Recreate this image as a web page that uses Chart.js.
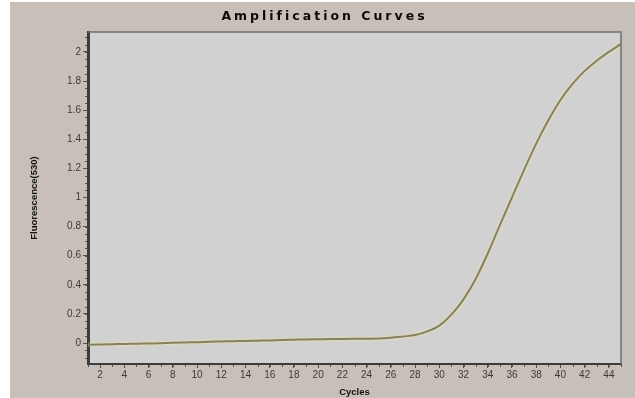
<!DOCTYPE html>
<html>
<head>
<meta charset="utf-8">
<title>Amplification Curves</title>
<script src="https://cdn.jsdelivr.net/npm/chart.js@4/dist/chart.umd.min.js"></script>
<style>
  html, body { margin: 0; padding: 0; background: #fff; }
  #wrap { position: absolute; left: 10px; top: 2px; width: 625px; height: 396px; background: #c8c0b8; }
</style>
</head>
<body>
<div id="wrap"><canvas id="ampChart" width="625" height="396"></canvas></div>
<script>
'use strict';

const cycles = [1, 2, 3, 4, 5, 6, 7, 8, 9, 10, 11, 12, 13, 14, 15, 16, 17, 18, 19, 20, 21, 22, 23,
  24, 25, 26, 27, 28, 29, 30, 31, 32, 33, 34, 35, 36, 37, 38, 39, 40, 41, 42, 43, 44, 45];
const fluorescence = [-0.012, -0.010, -0.008, -0.006, -0.005, -0.003, -0.001, 0.002, 0.004, 0.006,
  0.009, 0.011, 0.013, 0.014, 0.016, 0.018, 0.021, 0.023, 0.025, 0.026, 0.027, 0.028, 0.029, 0.030,
  0.031, 0.036, 0.045, 0.055, 0.080, 0.120, 0.195, 0.300, 0.440, 0.615, 0.810, 1.000, 1.190, 1.370,
  1.530, 1.670, 1.780, 1.870, 1.940, 2.000, 2.055];
const xTicks = [2, 4, 6, 8, 10, 12, 14, 16, 18, 20, 22, 24, 26, 28, 30, 32, 34, 36, 38, 40, 42, 44];
const yTicks = [0, 0.2, 0.4, 0.6, 0.8, 1, 1.2, 1.4, 1.6, 1.8, 2];

const titleText = 'Amplification Curves';

// grey plot background, frame, minor ticks and the bold spaced title
const framePlugin = {
  id: 'frame',
  beforeDraw(chart) {
    const { ctx, chartArea: a } = chart;
    ctx.save();
    ctx.fillStyle = '#d1d1d1';
    ctx.fillRect(a.left, a.top, a.right - a.left, a.bottom - a.top);
    ctx.restore();
  },
  afterDraw(chart) {
    const { ctx, chartArea: a, scales } = chart;
    ctx.save();
    ctx.strokeStyle = '#6e6e6e';
    ctx.lineWidth = 1.5;
    ctx.beginPath();
    ctx.moveTo(a.left, a.top);
    ctx.lineTo(a.right, a.top);
    ctx.lineTo(a.right, a.bottom);
    ctx.stroke();

    // minor ticks
    ctx.strokeStyle = '#555';
    ctx.lineWidth = 1;
    ctx.beginPath();
    for (let v = -0.1; v <= 2.12; v += 0.05) {
      const y = Math.round(scales.y.getPixelForValue(v)) + 0.5;
      ctx.moveTo(a.left - 3, y);
      ctx.lineTo(a.left - 1, y);
    }
    for (let c = 1; c <= 45; c++) {
      const x = Math.round(scales.x.getPixelForValue(c)) + 0.5;
      ctx.moveTo(x, a.bottom + 1);
      ctx.lineTo(x, a.bottom + 3);
    }
    ctx.stroke();

    ctx.fillStyle = '#0a0a0a';
    ctx.font = 'bold 12.5px "DejaVu Sans"';
    ctx.letterSpacing = '3px';
    ctx.textAlign = 'center';
    ctx.textBaseline = 'middle';
    ctx.fillText(titleText, chart.width / 2 + 2, 15);
    ctx.restore();
  }
};

const glowPlugin = {
  id: 'glow',
  beforeDatasetDraw(chart) {
    chart.ctx.save();
    chart.ctx.shadowColor = 'rgba(245, 235, 160, 0.9)';
    chart.ctx.shadowBlur = 3;
  },
  afterDatasetDraw(chart) {
    chart.ctx.restore();
  }
};

const ctxAmp = document.getElementById('ampChart');
const chart = new Chart(ctxAmp, {
  type: 'line',
  data: {
    datasets: [{
      label: 'Sample',
      data: cycles.map((c, i) => ({ x: c, y: fluorescence[i] })),
      borderColor: '#85805f',
      borderWidth: 2,
      pointRadius: 0,
      cubicInterpolationMode: 'monotone',
      fill: false
    }]
  },
  options: {
    responsive: false,
    animation: false,
    layout: { padding: { top: 30, right: 14, left: 0, bottom: 0 } },
    plugins: {
      legend: { display: false },
      tooltip: { enabled: false }
    },
    scales: {
      x: {
        type: 'linear',
        min: 1,
        max: 45,
        afterBuildTicks(scale) { scale.ticks = xTicks.map(v => ({ value: v })); },
        afterFit(scale) { scale.height = 34; },
        grid: { drawOnChartArea: false, tickLength: 4, color: '#555', tickWidth: 1 },
        border: { color: '#3c3c3c', width: 2 },
        ticks: {
          color: '#3a3a3a',
          font: { family: 'Liberation Sans', size: 10 },
          padding: 1,
          maxRotation: 0,
          autoSkip: false
        },
        title: {
          display: true,
          text: 'Cycles',
          color: '#111',
          font: { family: 'Liberation Sans', size: 9.5, weight: 'bold' },
          padding: { top: 0, bottom: 0 }
        }
      },
      y: {
        type: 'linear',
        min: -0.144,
        max: 2.137,
        afterBuildTicks(scale) { scale.ticks = yTicks.map(v => ({ value: v })); },
        afterFit(scale) { scale.width = 78; },
        grid: { drawOnChartArea: false, tickLength: 5, color: '#555', tickWidth: 1 },
        border: { color: '#3c3c3c', width: 3 },
        ticks: {
          color: '#3a3a3a',
          font: { family: 'Liberation Sans', size: 10 },
          padding: 2,
          callback: v => String(Math.round(v * 10) / 10)
        },
        title: {
          display: true,
          text: 'Fluorescence(530)',
          color: '#111',
          font: { family: 'Liberation Sans', size: 9.5, weight: 'bold' },
          padding: { top: 19, bottom: 0 }
        }
      }
    }
  },
  plugins: [framePlugin, glowPlugin]
});
</script>
</body>
</html>
